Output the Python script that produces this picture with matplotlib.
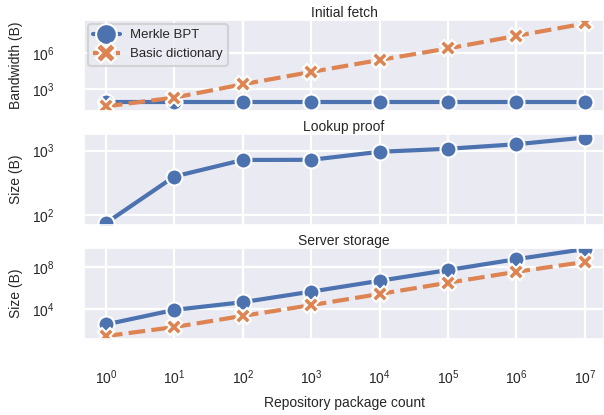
import numpy as np
import matplotlib
matplotlib.use("Agg")
import matplotlib.pyplot as plt
import seaborn as sns

sns.set_theme(style="darkgrid")
plt.rcParams['font.family'] = ['Liberation Sans', 'DejaVu Sans']

# ---- data ----
package_count = [1, 10, 100, 1e3, 1e4, 1e5, 1e6, 1e7]
series_names = ["Merkle BPT", "Basic dictionary"]
fetch_merkle = [100, 100, 100, 100, 100, 100, 100, 100]
fetch_basic = [40, 210, 2600, 27000, 260000, 2.3e6, 2.5e7, 2.6e8]
proof_merkle = [74, 395, 716, 720, 960, 1070, 1260, 1600]
storage_merkle = [355, 8500, 46000, 460000, 4.9e6, 5.1e7, 5.5e8, 5e9]
storage_basic = [28, 200, 2300, 24000, 275000, 3.2e6, 3.5e7, 3e8]
titles = ["Initial fetch", "Lookup proof", "Server storage"]
ylabels = ["Bandwidth (B)", "Size (B)", "Size (B)"]
xlabel = "Repository package count"

blue = "#4c72b0"
orange = "#dd8452"
lw = 3.0
ms = 11.5

fig, axes = plt.subplots(3, 1, sharex=True, figsize=(6.04, 4.15), dpi=100)
fig.subplots_adjust(left=84/604, right=1.0, top=1-20/415, bottom=1-339/415, hspace=23/91)

def plot_merkle(ax, y):
    ax.plot(package_count, y, color=blue, lw=lw, marker='o', ms=ms,
            mec='white', mew=1.5, label=series_names[0])

def plot_basic(ax, y):
    ax.plot(package_count, y, color=orange, lw=lw, marker='X', ms=ms,
            mec='white', mew=1.5, dashes=(4, 1.5), label=series_names[1])

plot_merkle(axes[0], fetch_merkle)
plot_basic(axes[0], fetch_basic)
plot_merkle(axes[1], proof_merkle)
plot_merkle(axes[2], storage_merkle)
plot_basic(axes[2], storage_basic)

ylims = [(10**1.22, 10**8.7), (10**1.84, 10**3.26), (10**1.17, 10**9.8)]
yticks = [[1e3, 1e6], [1e2, 1e3], [1e4, 1e8]]

for ax, t, yl, lim, tk in zip(axes, titles, ylabels, ylims, yticks):
    ax.set_xscale('log')
    ax.set_yscale('log')
    ax.set_ylim(*lim)
    ax.set_yticks(tk)
    ax.yaxis.set_minor_locator(matplotlib.ticker.NullLocator())
    ax.xaxis.set_minor_locator(matplotlib.ticker.NullLocator())
    ax.set_title(t, fontsize=10, pad=2)
    ax.set_ylabel(yl, fontsize=10, labelpad=6.5)
    ax.tick_params(axis='both', labelsize=10, pad=21, length=0)
    ax.grid(True, lw=1.6, color='white')

axes[2].set_xlim(10**-0.32, 10**7.28)
axes[2].set_xticks(package_count)
axes[2].set_xlabel(xlabel, fontsize=10, labelpad=7)

leg = axes[0].legend(loc='upper left', fontsize=9.5, markerscale=1.3,
                     borderaxespad=0.3, handlelength=2.0)
leg.get_frame().set_linewidth(1.5)

fig.savefig("out.png", dpi=100)
